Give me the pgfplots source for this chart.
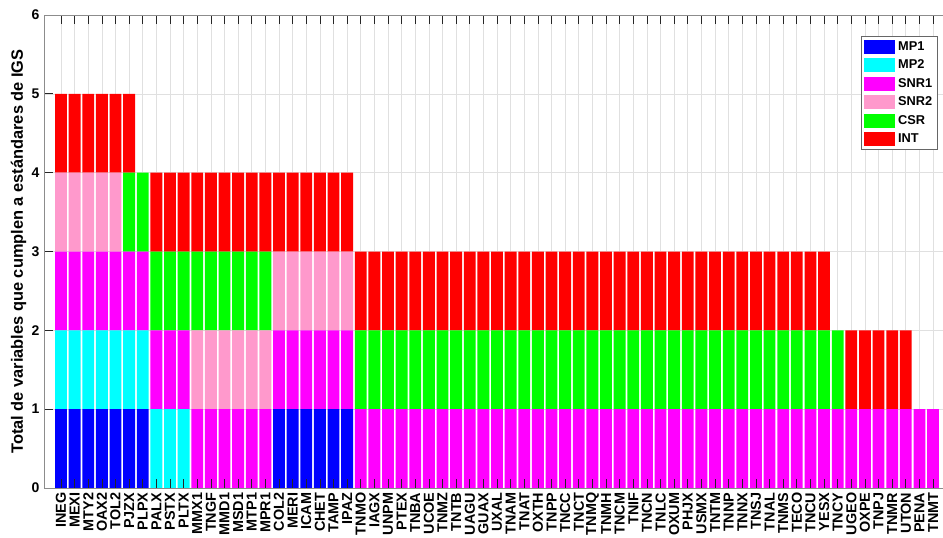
\documentclass[border=0pt]{standalone}
\usepackage{pgfplots}
\usepackage{pgfplotstable}
\pgfplotsset{compat=1.18}
\usepackage{fontspec}
\setmainfont{Liberation Sans}

\definecolor{cMPone}{RGB}{0,0,255}
\definecolor{cMPtwo}{RGB}{0,255,255}
\definecolor{cSNRone}{RGB}{255,0,255}
\definecolor{cSNRtwo}{RGB}{255,153,204}
\definecolor{cCSR}{RGB}{0,255,0}
\definecolor{cINT}{RGB}{255,0,0}

% grid under the bars, ticks over them
\pgfplotsset{layers/barsmid/.define layer set={axis background,axis grid,main,axis ticks,axis lines,axis tick labels,axis descriptions,axis foreground}{/pgfplots/layers/standard}}

\pgfplotstableread{
x name MP1 MP2 SNR1 SNR2 CSR INT
1 INEG 1 1 1 1 0 1
2 MEXI 1 1 1 1 0 1
3 MTY2 1 1 1 1 0 1
4 OAX2 1 1 1 1 0 1
5 TOL2 1 1 1 1 0 1
6 PJZX 1 1 1 0 1 1
7 PLPX 1 1 1 0 1 0
8 PALX 0 1 1 0 1 1
9 PSTX 0 1 1 0 1 1
10 PLTX 0 1 1 0 1 1
11 MMX1 0 0 1 1 1 1
12 TNGF 0 0 1 1 1 1
13 MMD1 0 0 1 1 1 1
14 MSD1 0 0 1 1 1 1
15 MTP1 0 0 1 1 1 1
16 MPR1 0 0 1 1 1 1
17 COL2 1 0 1 1 0 1
18 MERI 1 0 1 1 0 1
19 ICAM 1 0 1 1 0 1
20 CHET 1 0 1 1 0 1
21 TAMP 1 0 1 1 0 1
22 IPAZ 1 0 1 1 0 1
23 TNMO 0 0 1 0 1 1
24 IAGX 0 0 1 0 1 1
25 UNPM 0 0 1 0 1 1
26 PTEX 0 0 1 0 1 1
27 TNBA 0 0 1 0 1 1
28 UCOE 0 0 1 0 1 1
29 TNMZ 0 0 1 0 1 1
30 TNTB 0 0 1 0 1 1
31 UAGU 0 0 1 0 1 1
32 GUAX 0 0 1 0 1 1
33 UXAL 0 0 1 0 1 1
34 TNAM 0 0 1 0 1 1
35 TNAT 0 0 1 0 1 1
36 OXTH 0 0 1 0 1 1
37 TNPP 0 0 1 0 1 1
38 TNCC 0 0 1 0 1 1
39 TNCT 0 0 1 0 1 1
40 TNMQ 0 0 1 0 1 1
41 TNMH 0 0 1 0 1 1
42 TNCM 0 0 1 0 1 1
43 TNIF 0 0 1 0 1 1
44 TNCN 0 0 1 0 1 1
45 TNLC 0 0 1 0 1 1
46 OXUM 0 0 1 0 1 1
47 PHJX 0 0 1 0 1 1
48 USMX 0 0 1 0 1 1
49 TNTM 0 0 1 0 1 1
50 TNNP 0 0 1 0 1 1
51 TNNX 0 0 1 0 1 1
52 TNSJ 0 0 1 0 1 1
53 TNAL 0 0 1 0 1 1
54 TNMS 0 0 1 0 1 1
55 TECO 0 0 1 0 1 1
56 TNCU 0 0 1 0 1 1
57 YESX 0 0 1 0 1 1
58 TNCY 0 0 1 0 1 0
59 UGEO 0 0 1 0 0 1
60 OXPE 0 0 1 0 0 1
61 TNPJ 0 0 1 0 0 1
62 TNMR 0 0 1 0 0 1
63 UTON 0 0 1 0 0 1
64 PENA 0 0 1 0 0 0
65 TNMT 0 0 1 0 0 0
}\datatable

\begin{document}
\begin{tikzpicture}
\begin{axis}[
    set layers=barsmid,
    scale only axis,
    width=674.25pt, height=354.75pt,
    at={(0,0)}, anchor=south west,
    ybar stacked, bar width=0.87,
    xmin=-0.25, xmax=65.73, ymin=0, ymax=6,
    xtick={1,...,65},
    xticklabels from table={\datatable}{name},
    ytick={0,...,6},
    separate axis lines,
    axis x line=box, axis y line=left,
    axis line style={black!45, line width=0.6pt, -},
    tick align=inside,
    major tick length=6.5pt,
    tick style={black!85, line width=0.6pt},
    grid=major,
    major grid style={black!12, line width=0.5pt},
    /pgf/number format/assume math mode=true,
    xticklabel style={rotate=90, anchor=east, font=\bfseries\fontsize{10.8}{12}\selectfont},
    yticklabel style={font=\bfseries\fontsize{10.5}{12}\selectfont},
    ylabel={Total de variables que cumplen a estándares de IGS},
    ylabel style={font=\bfseries\fontsize{12.3}{14}\selectfont},
    ylabel shift=-3pt,
    legend style={at={(rel axis cs:0.9944,0.9556)}, anchor=north east,
        draw=black!60, line width=0.6pt, inner sep=2pt,
        font=\bfseries\fontsize{9.6}{10}\selectfont,
        row sep=1.6pt, cells={anchor=west}},
    legend image code/.code={\fill[#1] (0pt,-5.25pt) rectangle (23.5pt,5.25pt);},
]
\addplot[fill=cMPone, draw=none] table[x=x, y=MP1] {\datatable};
\addlegendentry{MP1}
\addplot[fill=cMPtwo, draw=none] table[x=x, y=MP2] {\datatable};
\addlegendentry{MP2}
\addplot[fill=cSNRone, draw=none] table[x=x, y=SNR1] {\datatable};
\addlegendentry{SNR1}
\addplot[fill=cSNRtwo, draw=none] table[x=x, y=SNR2] {\datatable};
\addlegendentry{SNR2}
\addplot[fill=cCSR, draw=none] table[x=x, y=CSR] {\datatable};
\addlegendentry{CSR}
\addplot[fill=cINT, draw=none] table[x=x, y=INT] {\datatable};
\addlegendentry{INT}
\end{axis}
\pgfresetboundingbox
\path[use as bounding box] (-33pt,-36.75pt) rectangle (674.25pt,366pt);
\end{tikzpicture}
\end{document}
